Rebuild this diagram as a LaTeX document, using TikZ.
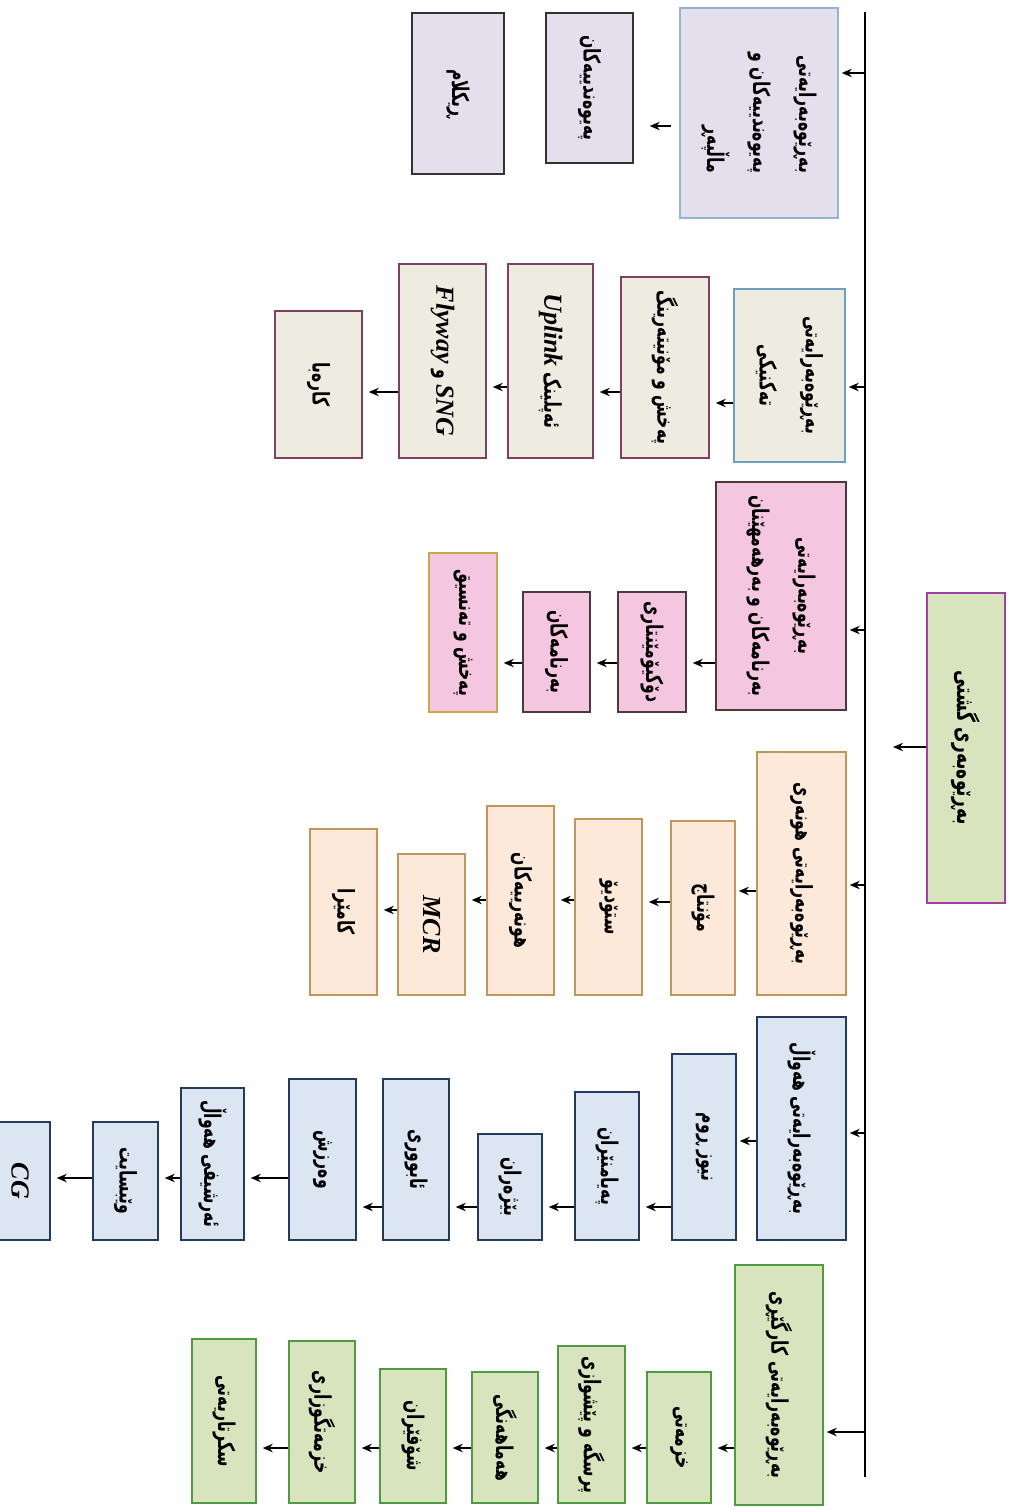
\documentclass[tikz,border=0pt]{standalone}
\usepackage{fontspec}
\newfontfamily\kf[Script=Arabic,FakeStretch=0.68]{DejaVu Sans}
\newfontfamily\lat{Liberation Serif}
\TeXXeTstate=1
\usetikzlibrary{arrows.meta}
\definecolor{lav}{HTML}{E4DFEC}
\definecolor{lavb}{HTML}{95B3D7}
\definecolor{grey1}{HTML}{EEECE1}
\definecolor{tealb}{HTML}{6F9FC0}
\definecolor{maroon}{HTML}{7F3F5F}
\definecolor{pink1}{HTML}{F4C6E0}
\definecolor{darkb}{HTML}{4A3A3A}
\definecolor{goldb}{HTML}{C9A74B}
\definecolor{peach}{HTML}{FDE9D9}
\definecolor{tan}{HTML}{C0975A}
\definecolor{lblue}{HTML}{DCE6F2}
\definecolor{navy}{HTML}{243B5E}
\definecolor{lgreen}{HTML}{D7E4BD}
\definecolor{gborder}{HTML}{4F9A42}
\definecolor{rootb}{HTML}{A040A0}
\newcommand\rl[1]{\beginR #1\endR}
\newcommand\la[1]{{\lat\itshape\fontsize{13}{15}\selectfont #1}}
\begin{document}
\begin{tikzpicture}[x=0.5pt,y=-0.5pt,
  box/.style={draw, rotate=-90, inner sep=2pt, align=center, line width=0.75pt,
    font=\kf\bfseries\fontsize{11.5}{23}\selectfont},
  wh/.style 2 args={minimum height={#1*0.5pt}, minimum width={#2*0.5pt}},
  s1h/.style={box, fill=lav, draw=lavb},
  s1/.style={box, fill=lav, draw=black!80},
  s2h/.style={box, fill=grey1, draw=tealb},
  s2/.style={box, fill=grey1, draw=maroon},
  s3/.style={box, fill=pink1, draw=darkb},
  s4/.style={box, fill=peach, draw=tan},
  s5/.style={box, fill=lblue, draw=navy},
  s6/.style={box, fill=lgreen, draw=gborder},
  sroot/.style={box, fill=lgreen, draw=rootb, font=\kf\bfseries\fontsize{12.5}{23}\selectfont},
  arr/.style={-{Stealth[length=5pt,width=4.2pt]}, line width=0.7pt, shorten >=1.5pt},
  bus/.style={line width=0.8pt}
]
\fill[white] (0,0) rectangle (1008,1510);
\useasboundingbox (0,0) rectangle (1008,1510);
\foreach \v in {73,126,387,392,403,630,663,885,891,902,900,910,1133,1141,1207,1178,1432,1448,747}
  \coordinate (Y\v) at (0,\v);
\coordinate (bustop) at (865,12);
\coordinate (busbot) at (865,1477);
\coordinate (rtip) at (890,747);

% root
\node[sroot, wh={78}{310}] (root) at (966,748) {\rl{بەڕێوەبەری گشتی}};

% column 1
\node[s1h, wh={158}{210}, align=right] (h1) at (759,113)
  {\rl{بەڕێوەبەرایەتی}\\\rl{پەیوەندییەکان و}\\\rl{ماڵپەڕ}};
\node[s1, wh={87}{150}] (a1) at (589.5,88) {\rl{پەیوەندییەکان}};
\node[s1, wh={92}{161}] (a2) at (458,93.5) {\rl{ڕیکلام}};

% column 2
\node[s2h, wh={111}{173}] (h2) at (789.5,375.5) {\rl{بەڕێوەبەرایەتی}\\\rl{تەکنیکی}};
\node[s2, wh={88}{181}] (b1) at (665,367.5) {\rl{پەخش و مۆنیتەرینگ}};
\node[s2, wh={85}{194}] (b2) at (550.5,361) {\rl{ئەپلینک \la{Uplink}}};
\node[s2, wh={87}{194}] (b3) at (442.5,361) {\rl{\la{SNG} و \la{Flyway}}};
\node[s2, wh={87}{147}] (b4) at (318.5,384.5) {\rl{کارەبا}};

% column 3
\node[s3, wh={130}{228}] (h3) at (781,596) {\rl{بەڕێوەبەرایەتی}\\\rl{بەرنامەکان و بەرهەمهێنان}};
\node[s3, wh={68}{120}] (c1) at (652,652) {\rl{دۆکیۆمێنتاری}};
\node[s3, wh={67}{120}] (c2) at (556.5,652) {\rl{بەرنامەکان}};
\node[s3, draw=goldb, wh={68}{159}] (c3) at (463,632.5) {\rl{پەخش و تەنسیق}};

% column 4
\node[s4, wh={89}{243}] (h4) at (801.5,873.5) {\rl{بەڕێوەبەرایەتی هونەری}};
\node[s4, wh={64}{174}] (d1) at (703,908) {\rl{مۆنتاج}};
\node[s4, wh={67}{176}] (d2) at (608.5,907) {\rl{ستۆدیۆ}};
\node[s4, wh={67}{189}] (d3) at (520.5,900.5) {\rl{هونەرییەکان}};
\node[s4, wh={67}{141}] (d4) at (431.5,924.5) {\la{MCR}};
\node[s4, wh={67}{166}] (d5) at (343.5,912) {\rl{کامێرا}};

% column 5
\node[s5, wh={89}{223}] (h5) at (801.5,1128.5) {\rl{بەڕێوەبەرایەتی هەواڵ}};
\node[s5, wh={64}{186}] (e1) at (704,1147) {\rl{نیوز ڕوم}};
\node[s5, wh={64}{148}] (e2) at (607,1166) {\rl{پەیامنێران}};
\node[s5, wh={64}{106}] (e3) at (510,1187) {\rl{بێژەران}};
\node[s5, wh={66}{161}] (e4) at (416,1159.5) {\rl{ئابووری}};
\node[s5, wh={67}{161}] (e5) at (322.5,1159.5) {\rl{وەرزش}};
\node[s5, wh={63}{152}] (e6) at (212.5,1164) {\rl{ئەرشیفی هەواڵ}};
\node[s5, wh={65}{118}] (e7) at (125.5,1181) {\rl{وێبسایت}};
\node[s5, wh={60}{118}] (e8) at (20,1181) {\la{CG}};

% column 6
\node[s6, wh={88}{240}] (h6) at (779,1385) {\rl{بەڕێوەبەرایەتی کارگێڕی}};
\node[s6, wh={64}{131}] (f1) at (679,1437.5) {\rl{خزمەتی}};
\node[s6, wh={67}{157}] (f2) at (591.5,1424.5) {\rl{پرسگە و پێشوازی}};
\node[s6, wh={66}{131}] (f3) at (505,1437.5) {\rl{هەماهەنگی}};
\node[s6, wh={66}{134}] (f4) at (413,1436) {\rl{شۆفێران}};
\node[s6, wh={66}{162}] (f5) at (322,1422) {\rl{خزمەتگوزاری}};
\node[s6, wh={64}{164}] (f6) at (224,1421) {\rl{سکرتاریەتی}};

% bus
\draw[bus] (bustop) -- (busbot);
\draw[arr] (root.south |- Y747) -- (rtip);
\draw[arr] (bustop |- Y73) -- (h1.north |- Y73);
\draw[arr] (bustop |- Y387) -- (h2.north |- Y387);
\draw[arr] (bustop |- Y630) -- (h3.north |- Y630);
\draw[arr] (bustop |- Y885) -- (h4.north |- Y885);
\draw[arr] (bustop |- Y1133) -- (h5.north |- Y1133);
\draw[arr] (bustop |- Y1432) -- (h6.north |- Y1432);

% column 1 arrows
\draw[arr, shorten <=4pt, shorten >=8pt] (h1.south |- Y126) -- (a1.north |- Y126);
% column 2 arrows
\draw[arr, shorten >=3pt] (h2.south |- Y403) -- (b1.north |- Y403);
\draw[arr, shorten >=3pt] (b1.south |- Y392) -- (b2.north |- Y392);
\draw[arr, shorten >=3pt] (b2.south |- Y387) -- (b3.north |- Y387);
\draw[arr, shorten >=3pt] (b3.south |- Y392) -- (b4.north |- Y392);
% column 3 arrows
\draw[arr, shorten >=3pt] (h3.south |- Y663) -- (c1.north |- Y663);
\draw[arr, shorten >=3pt] (c1.south |- Y663) -- (c2.north |- Y663);
\draw[arr, shorten >=3pt] (c2.south |- Y663) -- (c3.north |- Y663);
% column 4 arrows
\draw[arr] (h4.south |- Y891) -- (d1.north |- Y891);
\draw[arr, shorten >=3pt] (d1.south |- Y902) -- (d2.north |- Y902);
\draw[arr, shorten >=3pt] (d2.south |- Y900) -- (d3.north |- Y900);
\draw[arr, shorten >=3pt] (d3.south |- Y900) -- (d4.north |- Y900);
\draw[arr, shorten >=3pt] (d4.south |- Y910) -- (d5.north |- Y910);
% column 5 arrows
\draw[arr] (h5.south |- Y1141) -- (e1.north |- Y1141);
\draw[arr, shorten >=3pt] (e1.south |- Y1207) -- (e2.north |- Y1207);
\draw[arr, shorten >=3pt] (e2.south |- Y1207) -- (e3.north |- Y1207);
\draw[arr, shorten >=3pt] (e3.south |- Y1207) -- (e4.north |- Y1207);
\draw[arr, shorten >=3pt] (e4.south |- Y1207) -- (e5.north |- Y1207);
\draw[arr, shorten >=3pt] (e5.south |- Y1178) -- (e6.north |- Y1178);
\draw[arr, shorten >=3pt] (e6.south |- Y1178) -- (e7.north |- Y1178);
\draw[arr, shorten >=3pt] (e7.south |- Y1178) -- (e8.north |- Y1178);
% column 6 arrows
\draw[arr, shorten >=3pt] (h6.south |- Y1448) -- (f1.north |- Y1448);
\draw[arr, shorten >=3pt] (f1.south |- Y1448) -- (f2.north |- Y1448);
\draw[arr, shorten >=3pt] (f2.south |- Y1448) -- (f3.north |- Y1448);
\draw[arr, shorten >=3pt] (f3.south |- Y1448) -- (f4.north |- Y1448);
\draw[arr, shorten >=3pt] (f4.south |- Y1448) -- (f5.north |- Y1448);
\draw[arr, shorten >=3pt] (f5.south |- Y1448) -- (f6.north |- Y1448);
\end{tikzpicture}
\end{document}
